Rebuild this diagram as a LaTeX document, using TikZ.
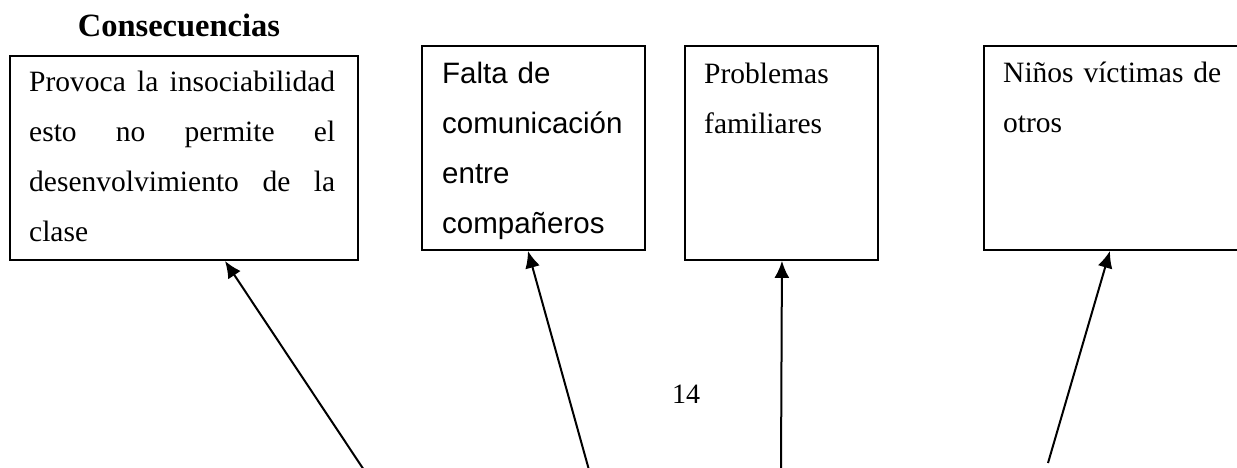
\documentclass[tikz,border=0pt]{standalone}
\usepackage{fontspec}
\setmainfont{Liberation Serif}
\newfontfamily\arialfont{Liberation Sans}
\usetikzlibrary{arrows.meta}

\tikzset{
    caja/.style={draw, line width=1.9pt, rectangle, inner sep=0pt, anchor=north west},
    texto/.style={inner sep=0pt, anchor=base west, align=left,
        font=\fontsize{29.5}{50}\selectfont},
    flecha/.style={line width=2pt, -{Latex[length=17pt,width=15pt]}}
}

\begin{document}
\begin{tikzpicture}[x=1pt,y=-1pt]
    \useasboundingbox (0,0) rectangle (1237,468);
    \clip (0,0) rectangle (1237,468);
    % title
    \node[font=\fontsize{32.5}{36}\selectfont\bfseries, anchor=base] (titulo) at (179,37) {Consecuencias};
    % the four boxes
    \node[caja, minimum width=348, minimum height=204] (c1) at (9,55) {};
    \node[caja, minimum width=223, minimum height=204] (c2) at (421,45) {};
    \node[caja, minimum width=193, minimum height=214] (c3) at (684,45) {};
    \node[caja, minimum width=280, minimum height=204] (c4) at (983,45) {};
    % texts inside the boxes
    \node[texto, text width=306] (t1) at ([shift={(20,37)}]c1.north west)
        {Provoca\hfill la\hfill insociabilidad\\
         esto\hfill no\hfill permite\hfill el\\
         desenvolvimiento\hfill de\hfill la\\
         clase};
    \node[texto, text width=200, font=\arialfont\fontsize{29.5}{50}\selectfont] (t2)
        at ([shift={(21,39)}]c2.north west)
        {Falta de\\ comunicación\\ entre\\ compañeros};
    \node[texto, text width=170] (t3) at ([shift={(20,39)}]c3.north west)
        {Problemas\\ familiares};
    \node[texto, text width=250] (t4) at ([shift={(20,38)}]c4.north west)
        {Niños víctimas de\\ otros};
    % page number
    \node[font=\fontsize{28}{32}\selectfont, anchor=base] (pagina) at (686,403) {14};
    % arrows coming up from below
    \foreach \i/\sx/\sy/\dx in {1/364/470/41, 2/589/470/-5.5, 3/781/470/0.5, 4/1048/463/-14}{%
        \coordinate (s\i) at (\sx,\sy);
        \draw[flecha] (s\i) -- ([xshift=\dx]c\i.south);
    }
\end{tikzpicture}
\end{document}
